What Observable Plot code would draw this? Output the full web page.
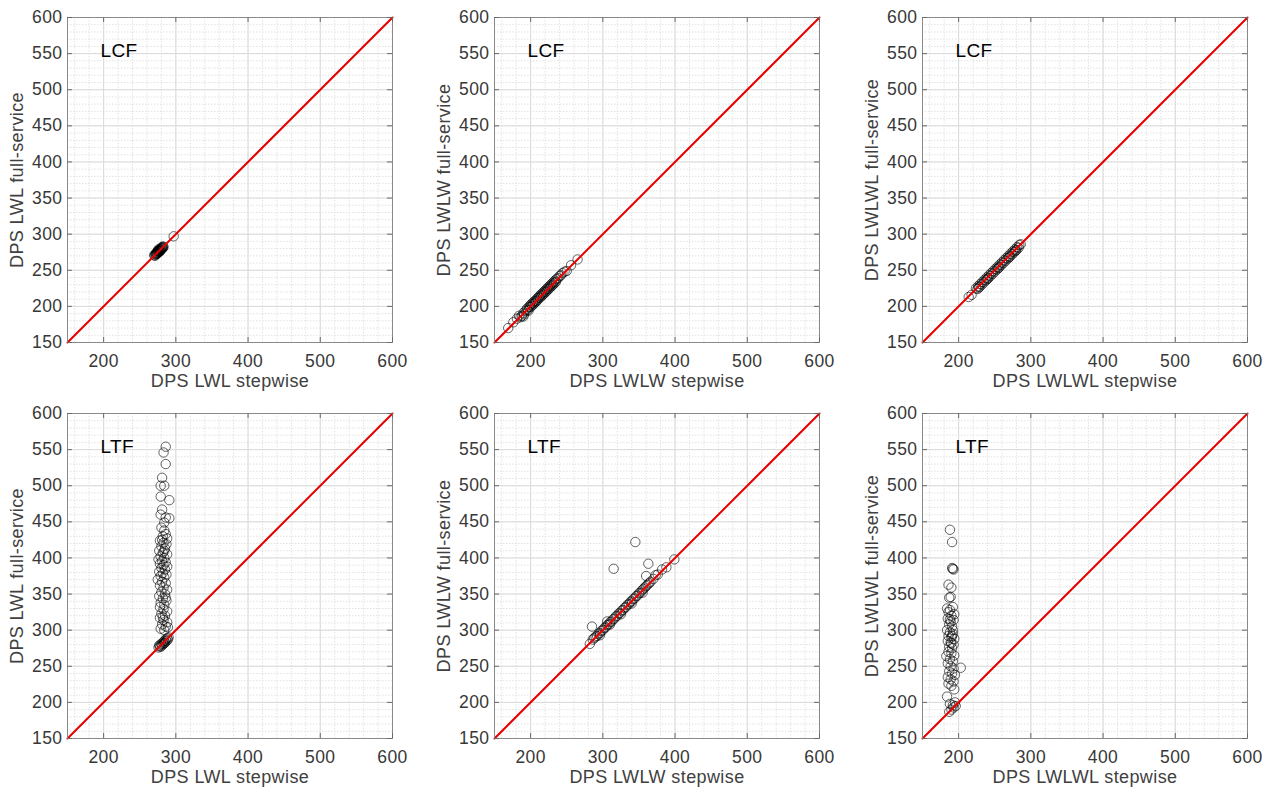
<!DOCTYPE html>
<html><head><meta charset="utf-8">
<script src="https://cdn.jsdelivr.net/npm/d3@7"></script>
<script src="https://cdn.jsdelivr.net/npm/@observablehq/plot@0.6"></script>
<style>
body{margin:0;background:#fff;font-family:"Liberation Sans",Arial,sans-serif;}
#wrap{position:relative;width:1268px;height:790px;overflow:hidden;}
.panel{position:absolute;}
.panel svg text{letter-spacing:0.4px;}
</style></head><body><div id="wrap"></div>
<script>
// ---- data ----
const xTicks = [200, 300, 400, 500, 600];
const yTicks = [150, 200, 250, 300, 350, 400, 450, 500, 550, 600];
const diag = [150, 600];

const lcfLWL = [[270,271],[271,270],[272,272],[272,273],[273,272],[273,274],[274,273],[274,275],[275,274],[275,276],[275,277],[276,275],[276,277],[277,276],[277,278],[278,277],[278,279],[279,278],[279,280],[280,279],[280,281],[281,280],[281,282],[282,281],[282,283],[283,282],[276,279],[278,276],[297,297]];

const lcfLWLW = [[169,170],[176,178],[181,183],[184,187],[186,185],[188,187],[190,191],[191,189],[193,194],[195,197],[196,195],[198,199],[199,201],[200,199],[201,203],[202,201],[203,205],[204,203],[205,207],[206,205],[207,208],[208,207],[209,211],[210,209],[211,212],[212,214],[213,212],[214,216],[215,214],[216,218],[217,216],[218,220],[219,218],[220,222],[221,220],[222,224],[223,222],[224,226],[225,224],[226,228],[227,226],[228,230],[229,228],[230,232],[231,230],[232,234],[233,232],[234,236],[235,234],[236,238],[238,239],[240,242],[242,243],[244,246],[247,248],[250,249],[256,257],[265,265],[190,186],[197,194]];

const lcfLWLWL = [[214,213],[218,216],[224,225],[226,224],[227,228],[229,227],[230,231],[232,230],[233,234],[235,233],[236,237],[238,236],[239,240],[241,239],[242,243],[244,242],[245,246],[247,245],[248,249],[250,248],[251,252],[253,251],[254,255],[256,254],[257,258],[259,257],[260,261],[262,260],[263,264],[265,263],[266,267],[268,266],[269,270],[271,269],[272,273],[274,272],[275,276],[277,275],[278,279],[280,278],[281,282],[283,281],[284,285],[286,286],[228,226],[240,238],[255,253],[270,268],[279,277]];

const ltfLWL = [[286,554],[283,546],[286,530],[281,511],[279,500],[284,500],[279,485],[291,480],[281,467],[279,460],[286,456],[291,455],[284,449],
[280,442],[284,438],[286,433],[282,430],[288,427],[278,424],[283,421],[287,419],[280,416],[285,413],[277,410],[282,407],[288,405],[279,402],[284,400],[276,398],[281,396],[286,394],[278,392],[283,390],[288,388],[280,386],[285,384],[277,381],[282,379],[287,377],[279,375],[284,373],[275,370],[281,367],[286,365],[278,362],[283,359],[288,356],[280,353],[285,350],[277,347],[282,344],[287,341],[279,338],[284,335],[278,332],[283,329],[288,326],[280,323],[285,320],[278,317],[283,314],[288,311],[281,308],[286,305],[279,302],[284,300],[289,304],[282,318],[286,345],[284,410],[281,425],
[276,276],[278,278],[279,277],[280,281],[281,279],[282,283],[283,281],[284,285],[285,283],[286,287],[287,285],[288,289],[289,287],[290,290],[277,279],[284,282]];

const ltfLWLW = [[282,281],[285,305],[286,287],[288,289],[290,291],[292,292],[294,295],[296,296],[298,299],[300,300],[302,303],[304,304],[306,312],[306,307],[308,308],[310,311],[312,312],[314,315],[316,316],[318,319],[320,320],[322,323],[324,324],[326,327],[328,328],[330,331],[332,332],[334,335],[336,336],[338,339],[340,340],[342,343],[344,344],[346,347],[348,348],[350,351],[352,352],[354,355],[356,357],[358,359],[360,361],[362,363],[364,365],[366,367],[370,371],[373,376],[376,377],[382,384],[388,387],[399,398],[315,385],[345,422],[363,392],[360,375],[296,293],[310,308],[325,322],[340,337],[355,352]];

const ltfLWLWL = [[188,439],[191,422],[191,386],[193,384],[192,385],[186,363],[190,359],[187,345],[189,346],[184,330],[188,328],[192,332],[186,325],[190,320],[194,322],[185,316],[189,312],[193,314],[187,308],[191,305],[184,300],[188,297],[192,295],[186,292],[190,290],[194,288],[185,285],[189,283],[193,280],[187,277],[191,275],[183,264],[186,270],[190,268],[194,265],[188,260],[192,257],[185,254],[189,250],[193,247],[203,248],[187,243],[191,240],[195,238],[185,235],[189,232],[193,229],[186,226],[190,223],[194,218],[184,208],[188,198],[192,196],[195,200],[187,187],[190,190],[193,193],[196,195],[191,292],[188,315],[192,300],[190,282]];

const panels = [
  {data: lcfLWL,   tag: "LCF", xl: "DPS LWL stepwise",   yl: "DPS LWL full-service",   left: 0,   top: 0},
  {data: lcfLWLW,  tag: "LCF", xl: "DPS LWLW stepwise",  yl: "DPS LWLW full-service",  left: 427, top: 0},
  {data: lcfLWLWL, tag: "LCF", xl: "DPS LWLWL stepwise", yl: "DPS LWLWL full-service", left: 855, top: 0},
  {data: ltfLWL,   tag: "LTF", xl: "DPS LWL stepwise",   yl: "DPS LWL full-service",   left: 0,   top: 396},
  {data: ltfLWLW,  tag: "LTF", xl: "DPS LWLW stepwise",  yl: "DPS LWLW full-service",  left: 427, top: 396},
  {data: ltfLWLWL, tag: "LTF", xl: "DPS LWLWL stepwise", yl: "DPS LWLWL full-service", left: 855, top: 396}
];

// ---- drawing ----
const font = "'Liberation Sans', Arial, sans-serif";
const minorX = d3.range(160, 600, 20);
const minorY = d3.range(160, 600, 10);
const frameSize = 325;

function makePanel(p) {
  return Plot.plot({
    width: 67 + frameSize + 14,
    height: 17 + frameSize + 53,
    marginLeft: 67, marginRight: 14, marginTop: 17, marginBottom: 53,
    x: {domain: [150, 600]},
    y: {domain: [150, 600]},
    style: {fontFamily: font, fontSize: "17.5px", color: "#383838", background: "white", overflow: "visible"},
    marks: [
      Plot.gridX(minorX, {stroke: "#e2e2e2", strokeOpacity: 1, strokeDasharray: "1.5,1.5"}),
      Plot.gridY(minorY, {stroke: "#e2e2e2", strokeOpacity: 1, strokeDasharray: "1.5,1.5"}),
      Plot.gridX(xTicks, {stroke: "#dadada", strokeOpacity: 1}),
      Plot.gridY(yTicks, {stroke: "#dadada", strokeOpacity: 1}),
      Plot.dot(p.data, {x: d => d[0], y: d => d[1], r: 4.7, stroke: "#000", strokeOpacity: 0.6, strokeWidth: 1}),
      Plot.line(diag, {x: d => d, y: d => d, stroke: "#e60000", strokeWidth: 2}),
      Plot.frame({stroke: "#8a8a8a", strokeWidth: 1}),
      Plot.tickX(xTicks, {x: d => d, insetTop: frameSize - 5, stroke: "#6a6a6a"}),
      Plot.tickX(xTicks, {x: d => d, insetBottom: frameSize - 5, stroke: "#6a6a6a"}),
      Plot.tickY(yTicks, {y: d => d, insetRight: frameSize - 5, stroke: "#6a6a6a"}),
      Plot.tickY(yTicks, {y: d => d, insetLeft: frameSize - 5, stroke: "#6a6a6a"}),
      Plot.axisX(xTicks, {tickSize: 0, tickPadding: 12, label: null, fontSize: 17.5}),
      Plot.axisY(yTicks, {tickSize: 0, tickPadding: 5, label: null, fontSize: 17.5}),
      Plot.text([p.xl], {text: d => d, frameAnchor: "bottom", textAnchor: "middle", dy: 44, fontSize: 18, fill: "#404040"}),
      Plot.text([p.yl], {text: d => d, frameAnchor: "left", textAnchor: "middle", dx: -50, rotate: -90, fontSize: 18, fill: "#404040"}),
      Plot.text([p.tag], {text: d => d, frameAnchor: "top-left", dx: 33, dy: 26, textAnchor: "start", fontSize: 19, fill: "#000"})
    ]
  });
}

const wrap = document.getElementById("wrap");
for (const p of panels) {
  const div = document.createElement("div");
  div.className = "panel";
  div.style.left = p.left + "px";
  div.style.top = p.top + "px";
  div.appendChild(makePanel(p));
  wrap.appendChild(div);
}
</script>
</body></html>
